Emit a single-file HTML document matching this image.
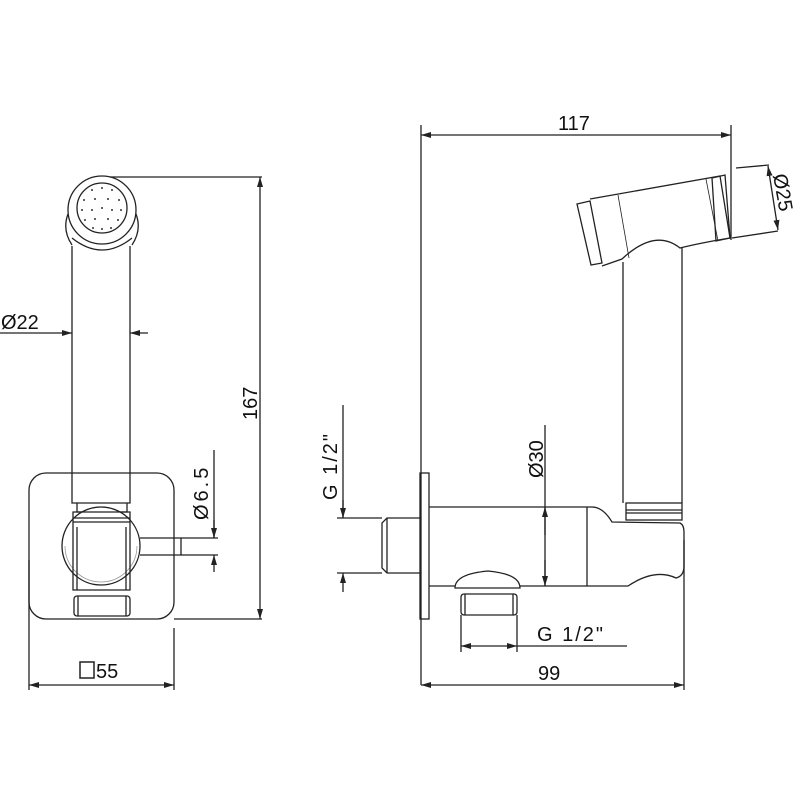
<!DOCTYPE html>
<html><head><meta charset="utf-8"><style>body{margin:0;background:#fff}svg{display:block}</style></head><body>
<svg width="800" height="800" viewBox="0 0 800 800" xmlns="http://www.w3.org/2000/svg" font-family="Liberation Sans, sans-serif" fill="none" stroke="#222" stroke-width="1.3">
<defs><marker id="a" viewBox="0 0 10 6" refX="10" refY="3" markerWidth="10" markerHeight="6" orient="auto-start-reverse" markerUnits="userSpaceOnUse"><path d="M0,0L10,3L0,6z" fill="#222" stroke="none"/></marker></defs>
<!-- LEFT VIEW -->
<circle cx="102" cy="210" r="34"/>
<circle cx="102" cy="208" r="25"/>
<path d="M72,245 Q62,230 68,214 M132,245 Q142,230 136,214 M72,238 Q102,262 132,238"/>
<g fill="#333" stroke="none">
<circle cx="92" cy="190" r="1"/><circle cx="102" cy="188" r="1"/><circle cx="112" cy="190" r="1"/>
<circle cx="84" cy="200" r="1"/><circle cx="95" cy="199" r="1"/><circle cx="108" cy="199" r="1"/><circle cx="119" cy="200" r="1"/>
<circle cx="82" cy="210" r="1"/><circle cx="92" cy="210" r="1"/><circle cx="102" cy="208" r="1"/><circle cx="112" cy="210" r="1"/><circle cx="121" cy="210" r="1"/>
<circle cx="85" cy="220" r="1"/><circle cx="95" cy="219" r="1"/><circle cx="108" cy="219" r="1"/><circle cx="118" cy="220" r="1"/>
<circle cx="93" cy="228" r="1"/><circle cx="102" cy="229" r="1"/><circle cx="111" cy="228" r="1"/>
</g>
<path d="M72,246V503H130V246"/>
<rect x="29" y="473" width="145" height="146" rx="17"/>
<path d="M77,503V512H127V503"/>
<path d="M62,546A39,39 0 0 0 140,546A39,39 0 0 0 62,546" fill="#fff"/>
<path d="M65,546A36,36 0 0 0 137,546" stroke="#999" stroke-width="0.8"/>
<path d="M73,527V512H130V527 M73,518H130 M73,522H130"/>
<path d="M77,527V590 M126,527V590 M73,527V590H130V527"/>
<rect x="74" y="596" width="56" height="20" rx="3"/>
<path d="M78,596V616 M126,596V616"/>
<path d="M140,538H181V555H140"/>
<!-- dims left -->
<path d="M110,177H262"/><path d="M260,177V619" marker-start="url(#a)" marker-end="url(#a)"/>
<path d="M174,619H262"/>
<path d="M0,333H62"/><path d="M62,333H72" marker-end="url(#a)"/><path d="M148,333H130" marker-end="url(#a)"/>
<path d="M214,450V538" /><path d="M214,520V538" marker-end="url(#a)"/><path d="M214,572V555" marker-end="url(#a)"/>
<path d="M181,538H218 M181,555H218"/>
<path d="M29,560V690 M174,628V690"/><path d="M29,685H174" marker-start="url(#a)" marker-end="url(#a)"/>
<rect x="80" y="662" width="14" height="16" stroke-width="1.5"/>
<!-- RIGHT VIEW -->
<path d="M421,135H731" marker-start="url(#a)" marker-end="url(#a)"/>
<path d="M421,125V685 M731,125V240"/>
<path d="M577,204L590,201L602,263L591,265Z"/>
<path d="M590,199Q640,190 720,176L730,238Q700,243 680,248Q655,228 622,259L602,266"/>
<path d="M712,178L725,175L730,238L716,241Z"/>
<path d="M618,195L629,258 M706,179L718,241" stroke-width="0.8"/>
<path d="M736,168L769,165 M732,238L778,231"/>
<path d="M768,166L778,230" marker-start="url(#a)" marker-end="url(#a)"/>
<path d="M623,262V503 M682,248V503"/>
<rect x="626" y="503" width="56" height="17"/>
<path d="M626,510H682 M626,513H682"/>
<rect x="420" y="473" width="9" height="146"/>
<path d="M421,518H387L382,523V568L387,573H421 M387,518V573"/>
<path d="M429,507H592Q603,507 612,522L680,523Q684,525 684,532V566Q684,576 676,578Q655,568 628,586L429,586"/>
<path d="M587,507V586"/>
<path d="M455,588Q455,574 488,571Q520,574 520,588Z" fill="#fff"/>
<rect x="461" y="594" width="56" height="21" rx="3"/>
<path d="M465,594V615 M513,594V615"/>
<!-- dims right -->
<path d="M343,405V518"/><path d="M343,500V518" marker-end="url(#a)"/><path d="M343,592V573" marker-end="url(#a)"/>
<path d="M337,518H382 M337,573H382"/>
<path d="M545,425V586" /><path d="M545,535V507" marker-end="url(#a)"/><path d="M545,560V586" marker-end="url(#a)"/>
<path d="M461,615V652 M517,615V652"/>
<path d="M461,646H517" marker-start="url(#a)" marker-end="url(#a)"/><path d="M517,646H627"/>
<path d="M684,540V690"/><path d="M421,685H684" marker-start="url(#a)" marker-end="url(#a)"/>
<g fill="#111" stroke="none" font-size="20">
<text x="1" y="329">Ø22</text>
<text x="0" y="0" transform="translate(257,420) rotate(-90)">167</text>
<text x="0" y="0" transform="translate(208,520) rotate(-90)" letter-spacing="3">Ø6.5</text>
<text x="96" y="678">55</text>
<text x="558" y="130">117</text>
<text x="0" y="0" transform="translate(773,175) rotate(80)">Ø25</text>
<text x="0" y="0" transform="translate(337,500) rotate(-90)" letter-spacing="2">G  1/2"</text>
<text x="0" y="0" transform="translate(543,478) rotate(-90)">Ø30</text>
<text x="537" y="641" letter-spacing="2">G  1/2"</text>
<text x="538" y="680">99</text>
</g>
</svg>
</body></html>
